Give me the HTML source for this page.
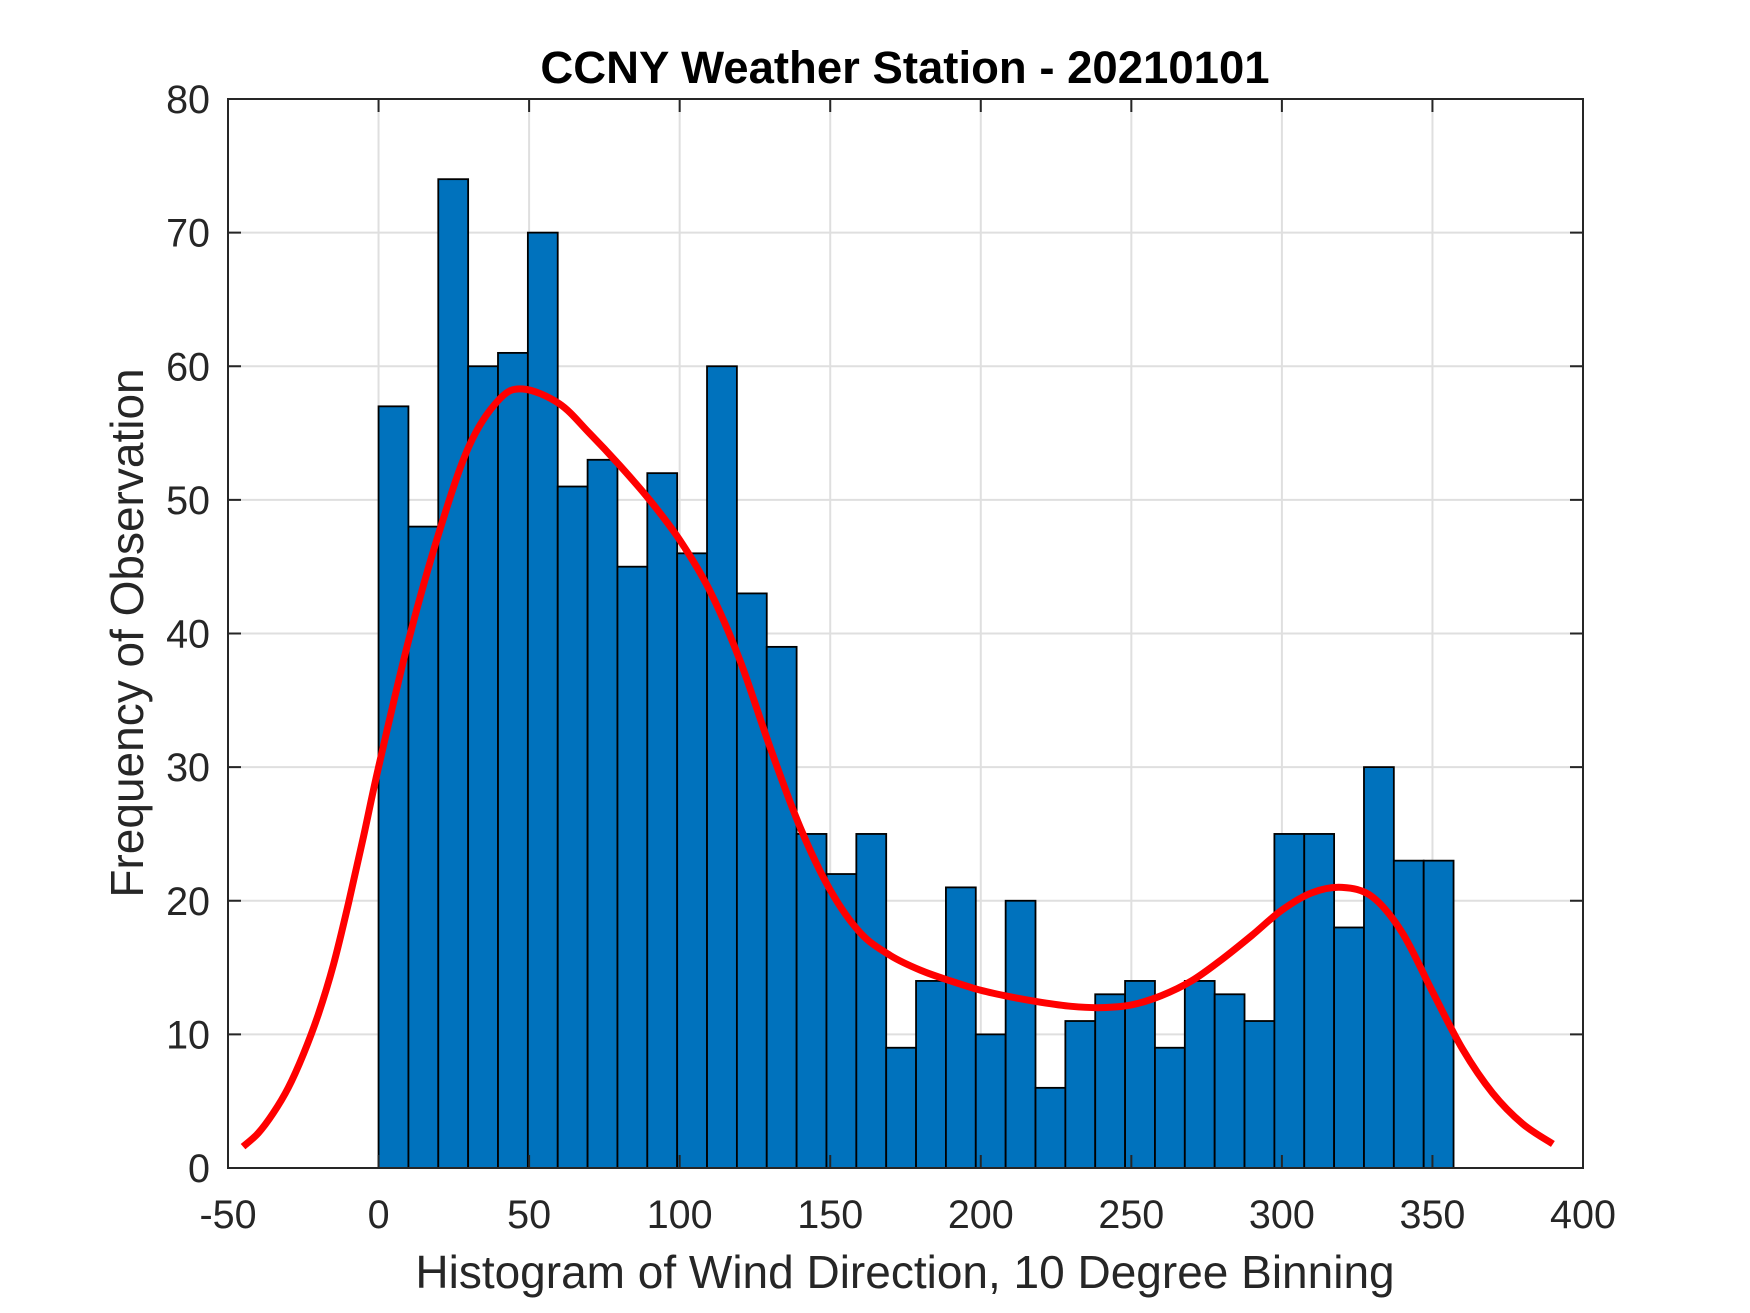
<!DOCTYPE html>
<html><head><meta charset="utf-8"><style>
html,body{margin:0;padding:0;background:#fff;}
svg{display:block;font-family:"Liberation Sans",Arial,sans-serif;}
</style></head><body>
<svg id="chart" width="1750" height="1313" viewBox="0 0 1750 1313">
<rect x="0" y="0" width="1750" height="1313" fill="#fff"/>
<g id="grid"></g>
<g id="bars"></g>
<g id="curve"></g>
<g id="axes"></g>
<text x="905" y="83" text-anchor="middle" font-size="45.5" font-weight="bold" fill="#000">CCNY Weather Station - 20210101</text>
<text x="905" y="1288" text-anchor="middle" font-size="46" fill="#262626">Histogram of Wind Direction, 10 Degree Binning</text>
<text transform="translate(143,633) rotate(-90)" text-anchor="middle" font-size="46" fill="#262626">Frequency of Observation</text>
</svg>
<script>
const binStart = 0;
const binWidth = 9.917;
const counts = [57,48,74,60,61,70,51,53,45,52,46,60,43,39,25,22,25,9,14,21,10,20,6,11,13,14,9,14,13,11,25,25,18,30,23,23];
const curveX = [-45,-40,-35,-30,-25,-20,-15,-10,-5,0,10,20,30,40,48,60,70,80,90,100,110,120,130,140,150,160,170,180,190,200,210,220,230,240,250,260,270,280,290,300,310,320,330,340,350,360,370,380,390];
const curveY = [1.6,2.6,4.1,6.0,8.5,11.5,15.2,19.8,24.8,30,39.5,47.5,54,57.5,58.3,57.2,55,52.6,50,47,43.2,38,31.5,25.5,20.8,17.6,15.9,14.8,14,13.3,12.8,12.4,12.1,12,12.2,12.9,14,15.6,17.4,19.3,20.6,21,20.3,17.6,13.2,8.9,5.6,3.3,1.8];
const xTicks = [-50,0,50,100,150,200,250,300,350,400];
const yTicks = [0,10,20,30,40,50,60,70,80];

const L=228,R=1583,T=99,B=1168,xMin=-50,xMax=400,yMin=0,yMax=80;
const sx=v=>L+(v-xMin)/(xMax-xMin)*(R-L);
const sy=v=>B-(v-yMin)/(yMax-yMin)*(B-T);
const NS="http://www.w3.org/2000/svg";
function mk(tag,attrs,parent){const e=document.createElementNS(NS,tag);for(const k in attrs)e.setAttribute(k,attrs[k]);parent.appendChild(e);return e;}
const grid=document.getElementById('grid'),bars=document.getElementById('bars'),curve=document.getElementById('curve'),axes=document.getElementById('axes');

xTicks.forEach(t=>{
  const l=mk('line',{x1:sx(t),x2:sx(t),y1:T,y2:B,stroke:'#dfdfdf','stroke-width':2},grid);
  
  
});
yTicks.forEach(t=>{
  const l=mk('line',{x1:L,x2:R,y1:sy(t),y2:sy(t),stroke:'#dfdfdf','stroke-width':2},grid);
  
  
});

counts.forEach((c,i)=>{
  const x0=sx(binStart+i*binWidth),x1=sx(binStart+(i+1)*binWidth);
  const r=mk('rect',{x:x0,y:sy(c),width:x1-x0,height:sy(0)-sy(c),fill:'#0072bd',stroke:'#000','stroke-width':1.8},bars);
  
  
});

const pts=curveX.map((x,i)=>[sx(x),sy(curveY[i])]);
let d='M'+pts[0][0]+','+pts[0][1];
for(let i=0;i<pts.length-1;i++){
  const p0=pts[Math.max(0,i-1)],p1=pts[i],p2=pts[i+1],p3=pts[Math.min(pts.length-1,i+2)];
  const c1x=p1[0]+(p2[0]-p0[0])/6,c1y=p1[1]+(p2[1]-p0[1])/6;
  const c2x=p2[0]-(p3[0]-p1[0])/6,c2y=p2[1]-(p3[1]-p1[1])/6;
  d+=' C'+c1x+','+c1y+' '+c2x+','+c2y+' '+p2[0]+','+p2[1];
}
const path=mk('path',{d:d,fill:'none',stroke:'#ff0000','stroke-width':7,'stroke-linejoin':'round'},curve);



const box=mk('rect',{x:L,y:T,width:R-L,height:B-T,fill:'none',stroke:'#262626','stroke-width':2},axes);



xTicks.forEach(t=>{
  mk('line',{x1:sx(t),x2:sx(t),y1:B,y2:B-13,stroke:'#262626','stroke-width':2},axes);
  mk('line',{x1:sx(t),x2:sx(t),y1:T,y2:T+13,stroke:'#262626','stroke-width':2},axes);
  const tx=mk('text',{x:sx(t),y:1228,'text-anchor':'middle','font-size':39.5,fill:'#262626'},axes);
  tx.textContent=t;
  
  
});
yTicks.forEach(t=>{
  mk('line',{x1:L,x2:L+13,y1:sy(t),y2:sy(t),stroke:'#262626','stroke-width':2},axes);
  mk('line',{x1:R,x2:R-13,y1:sy(t),y2:sy(t),stroke:'#262626','stroke-width':2},axes);
  const ty=mk('text',{x:210,y:sy(t)+14,'text-anchor':'end','font-size':39.5,fill:'#262626'},axes);
  ty.textContent=t;
  
  
});
</script>
</body></html>
